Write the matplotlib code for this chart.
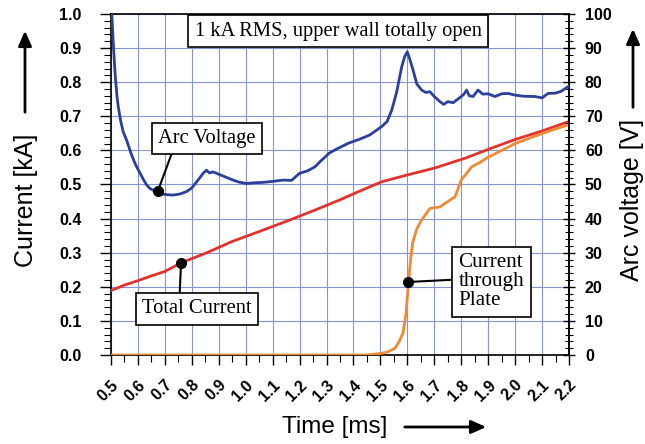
import numpy as np
import matplotlib.pyplot as plt
from matplotlib.ticker import MultipleLocator

plt.rcParams['font.family'] = ['Liberation Sans', 'DejaVu Sans']

# Arc voltage [V] (right axis)
t_volt = [0.503, 0.508, 0.515, 0.522, 0.527, 0.535, 0.545, 0.558, 0.575, 0.59, 0.608,
          0.62, 0.632, 0.645, 0.66, 0.676, 0.69, 0.71, 0.73, 0.755, 0.78, 0.80, 0.815,
          0.83, 0.842, 0.855, 0.865, 0.879, 0.90, 0.925, 0.953, 0.975, 1.003, 1.03,
          1.06, 1.10, 1.139, 1.17, 1.2, 1.23, 1.257, 1.28, 1.31, 1.34, 1.381, 1.42,
          1.46, 1.505, 1.525, 1.542, 1.56, 1.579, 1.59, 1.60, 1.61, 1.621, 1.635,
          1.653, 1.668, 1.684, 1.70, 1.721, 1.735, 1.75, 1.77, 1.80, 1.81, 1.82,
          1.83, 1.844, 1.862, 1.88, 1.90, 1.925, 1.95, 1.974, 2.0, 2.03, 2.074,
          2.10, 2.122, 2.15, 2.17, 2.197]
v_arc = [100, 92, 82.7, 76, 72.8, 69, 65.5, 63, 59, 56, 53.3,
         51.5, 49.9, 48.8, 48.2, 47.9, 47.2, 47.0, 46.9, 47.2, 47.9, 49.0, 50.5,
         52.0, 53.3, 54.2, 53.4, 53.7, 53.0, 52.2, 51.3, 50.7, 50.3, 50.5,
         50.6, 50.9, 51.3, 51.2, 53.3, 54.0, 55.2, 57.0, 59.2, 60.5, 62.1, 63.2,
         64.5, 67.0, 68.5, 71.8, 77.0, 84.5, 87.5, 88.9, 86.5, 83.6, 79.5,
         77.7, 77.0, 77.2, 75.8, 74.3, 73.5, 74.3, 74.0, 75.8, 76.5, 77.7,
         76.0, 75.8, 77.7, 76.5, 76.6, 75.8, 76.6, 76.7, 76.2, 75.9, 75.8,
         75.4, 76.7, 76.8, 77.3, 78.7]

# Total current [kA]
t_total = [0.503, 0.55, 0.60, 0.65, 0.70, 0.762, 0.85, 0.95, 1.05, 1.164, 1.257,
           1.35, 1.43, 1.505, 1.60, 1.70, 1.814, 1.90, 2.0, 2.10, 2.197]
i_total = [0.19, 0.205, 0.218, 0.232, 0.245, 0.271, 0.298, 0.333, 0.362, 0.396, 0.425,
           0.455, 0.483, 0.508, 0.528, 0.548, 0.577, 0.603, 0.632, 0.657, 0.684]

# Current through plate [kA]
t_plate = [0.503, 0.8, 1.1, 1.3, 1.45, 1.505, 1.53, 1.554, 1.57, 1.584, 1.595,
           1.604, 1.612, 1.62, 1.635, 1.653, 1.684, 1.72, 1.75, 1.777, 1.80,
           1.839, 1.87, 1.90, 1.95, 2.0, 2.06, 2.12, 2.197]
i_plate = [0.0, 0.0, 0.0, 0.0, 0.0, 0.005, 0.01, 0.02, 0.04, 0.065, 0.12,
           0.21, 0.28, 0.33, 0.37, 0.396, 0.43, 0.434, 0.45, 0.464, 0.513,
           0.552, 0.565, 0.58, 0.60, 0.62, 0.638, 0.655, 0.675]

x_ticks = np.round(np.arange(0.5, 2.21, 0.1), 1)

blue = '#2b3f9c'
red = '#e3312c'
orange = '#ef8a32'
grid_col = '#8594d4'

fig = plt.figure(figsize=(6.45, 4.44), dpi=100)
ax = fig.add_axes([111 / 645, 89 / 444, 458 / 645, 341 / 444])
ax2 = ax.twinx()
for side in ('left', 'top', 'bottom'):
    ax2.spines[side].set_visible(False)

ax.plot(t_total, i_total, color=red, lw=2, zorder=3)
ax.plot(t_plate, i_plate, color=orange, lw=2, zorder=3)
ax2.plot(t_volt, v_arc, color=blue, lw=2, zorder=3)

ax.set_xlim(0.5, 2.2)
ax.set_ylim(0, 1.0)
ax2.set_ylim(0, 100)

ax.set_xticks(x_ticks)
ax.set_xticklabels([f'{v:.1f}' for v in x_ticks], rotation=45, ha='right',
                   rotation_mode='anchor', fontweight='bold', fontsize=11.5)
ax.xaxis.set_minor_locator(MultipleLocator(0.05))
ax.yaxis.set_major_locator(MultipleLocator(0.1))
ax.yaxis.set_minor_locator(MultipleLocator(0.02))
ax.set_yticklabels([f'{v:.1f}' for v in ax.get_yticks()], fontweight='bold', fontsize=11.5)
ax2.yaxis.set_major_locator(MultipleLocator(10))
ax2.yaxis.set_minor_locator(MultipleLocator(2))
for lab in ax2.get_yticklabels():
    lab.set_fontweight('bold')
    lab.set_fontsize(11.5)

ax.grid(True, which='major', color=grid_col, lw=0.8)
ax.tick_params(axis='x', which='major', direction='out', length=7, width=1, pad=9)
ax.tick_params(axis='x', which='minor', direction='out', length=5, width=0.8)
ax.tick_params(axis='y', which='major', direction='out', length=8, width=1, pad=13)
ax.tick_params(axis='y', which='minor', direction='out', length=5, width=0.8)
ax2.tick_params(which='major', direction='inout', length=9, width=1, pad=7)
ax2.tick_params(which='minor', direction='inout', length=6, width=0.8)
for a in (ax, ax2):
    for s in a.spines.values():
        s.set_linewidth(1.2)

serif = ['Liberation Serif', 'DejaVu Serif']
box = dict(boxstyle='square,pad=0.3', fc='white', ec='black', lw=1.2)
line = dict(arrowstyle='-', color='black', lw=1.5, shrinkA=0, shrinkB=0)

ax2.text(1.343, 95.0, '1 kA RMS, upper wall totally open', family=serif, fontsize=14.8,
         ha='center', va='center', bbox=box, zorder=5)

ax2.annotate('Arc Voltage', xy=(0.674, 48.1), xytext=(0.856, 63.5), family=serif,
             fontsize=14.8, ha='center', va='center', bbox=box, zorder=5,
             arrowprops=dict(line, relpos=(0.16, 0.0)))
ax2.annotate('Total Current', xy=(0.760, 27.0), xytext=(0.819, 13.5), family=serif,
             fontsize=14.8, ha='center', va='center', bbox=box, zorder=5,
             arrowprops=dict(line, relpos=(0.34, 1.0)))
ax2.annotate('Current\nthrough\nPlate', xy=(1.602, 21.4), xytext=(1.912, 21.5), family=serif,
             fontsize=15.2, ha='center', va='center', multialignment='left',
             bbox=dict(box, pad=0.35), zorder=5, linespacing=1.0,
             arrowprops=dict(line, relpos=(0.0, 0.54)))
ax2.plot([0.674, 0.760, 1.602], [48.1, 27.0, 21.4], 'o', color='black', ms=7, zorder=6)

fig.text(26 / 645, 1 - 200 / 444, 'Current [kA]', rotation=90, fontsize=18,
         ha='center', va='center')
fig.text(632 / 645, 1 - 200 / 444, 'Arc voltage [V]', rotation=90, fontsize=18,
         ha='center', va='center')
fig.text(335 / 645, 1 - 427 / 444, 'Time [ms]', fontsize=17.5,
         ha='center', va='center')

arrow = dict(arrowstyle='-|>,head_length=0.9,head_width=0.4', color='black', lw=2)
for start, end in [((25, 115), (25, 28)), ((633, 110), (633, 26)), ((402, 427), (489, 427))]:
    ax.annotate('', xy=(end[0] / 645, 1 - end[1] / 444),
                xytext=(start[0] / 645, 1 - start[1] / 444),
                xycoords='figure fraction', textcoords='figure fraction',
                arrowprops=arrow, annotation_clip=False)

fig.savefig('out.png', dpi=100, facecolor='white')
